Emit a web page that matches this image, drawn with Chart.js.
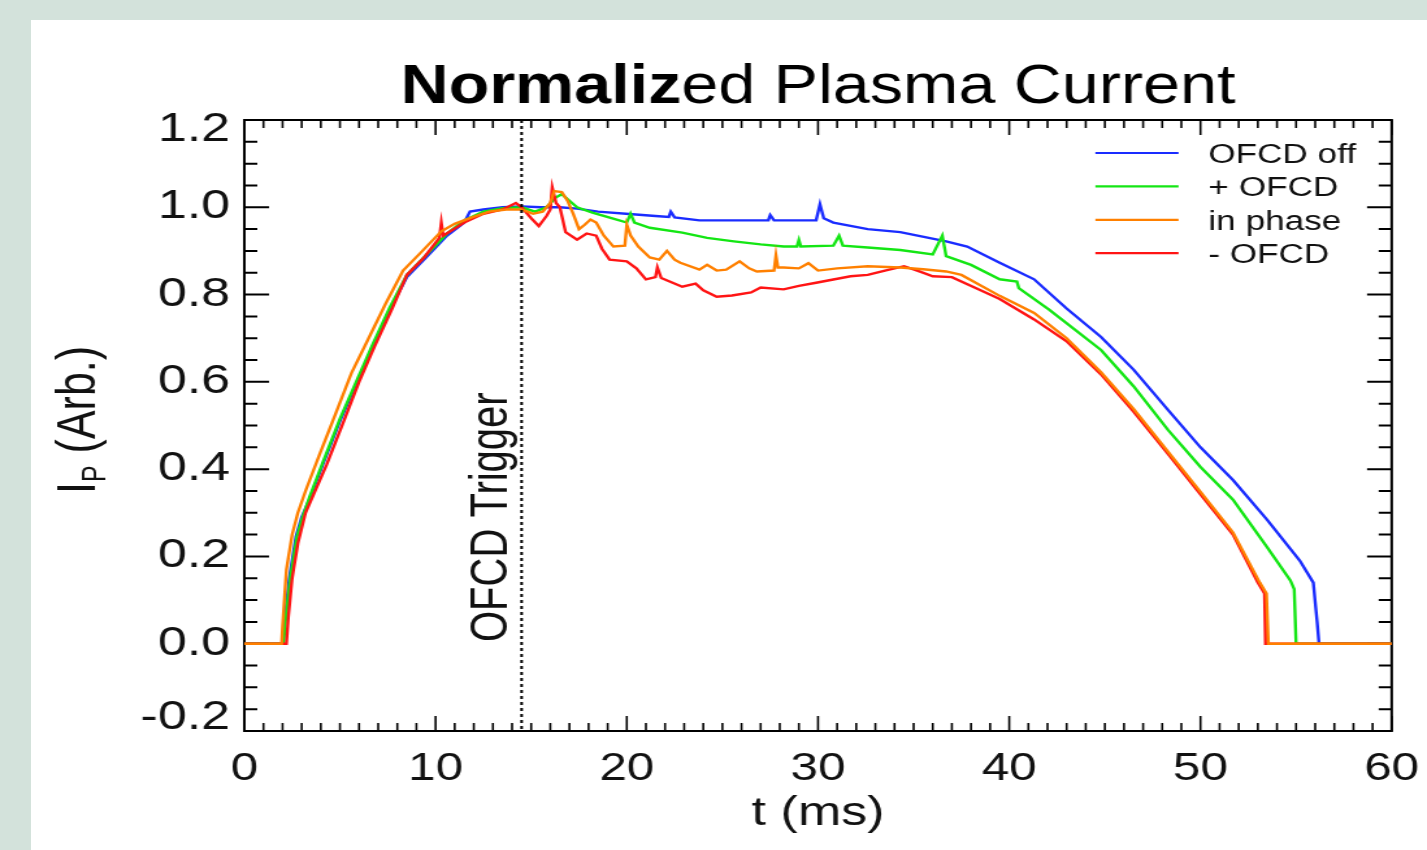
<!DOCTYPE html>
<html>
<head>
<meta charset="utf-8">
<title>Normalized Plasma Current</title>
<script src="https://cdn.jsdelivr.net/npm/chart.js@4.4.1/dist/chart.umd.min.js"></script>
<style>
  html, body { margin: 0; padding: 0; }
  body { width: 1427px; height: 850px; overflow: hidden; background: #d3e2db; position: relative; }
  #panel { position: absolute; left: 31px; top: 20px; right: 0; bottom: 0; background: #fff; }
  /* the source figure is stretched ~1.3x horizontally, so draw at native width and stretch */
  #wrap { position: absolute; left: 0; top: 0; width: 1108px; height: 850px; transform: scaleX(1.2996); transform-origin: 0 0; }
</style>
</head>
<body>
<div id="panel"></div>
<div id="wrap"><canvas id="chart"></canvas></div>
<script>
// Normalized plasma current, four shots

const FONT = '"Liberation Sans", Arial, Helvetica, sans-serif';

const TITLE_BOLD = 'Normaliz';
const TITLE_REST = 'ed Plasma Current';
const X_TITLE = 't (ms)';
const TRIGGER_LABEL = 'OFCD Trigger';
const TRIGGER_T = 14.5;

const X_TICKS = [0, 10, 20, 30, 40, 50, 60];
const Y_TICKS = [-0.2, 0.0, 0.2, 0.4, 0.6, 0.8, 1.0, 1.2];

const SERIES_LABELS = ['OFCD off', '+ OFCD', 'in phase', '- OFCD'];
const SERIES_COLORS = ['#1a2cff', '#14e614', '#ff8000', '#ff1414'];

// OFCD off
const OFF_T = [0, 2.0, 2.1, 2.35, 2.7, 3.0, 3.4, 4.1, 5.0, 5.9, 6.7, 7.6, 8.5, 9.5, 10.6, 11.5, 11.8,
  12.5, 13.5, 14.5, 15.5, 16.5, 17.4, 18.5, 20.3, 21.5, 22.2, 22.3, 22.5, 23.8, 25.0, 27.4, 27.5, 27.7,
  29.9, 30.1, 30.3, 30.8, 32.6, 34.3, 36.7, 37.8, 39.5, 41.3, 43.0, 44.8, 46.5, 48.3, 50.0, 51.7,
  53.5, 55.2, 55.9, 56.1, 56.2, 60];
const OFF_I = [0, 0, 0.05, 0.15, 0.245, 0.29, 0.33, 0.41, 0.51, 0.60, 0.68, 0.765, 0.84, 0.885, 0.935, 0.965, 0.99,
  0.995, 1.0, 1.002, 1.0, 1.0, 0.997, 0.99, 0.984, 0.98, 0.978, 0.99, 0.977, 0.97, 0.97, 0.97, 0.982, 0.97,
  0.97, 1.007, 0.975, 0.965, 0.95, 0.943, 0.922, 0.91, 0.873, 0.835, 0.768, 0.703, 0.628, 0.536, 0.45, 0.375,
  0.283, 0.19, 0.14, 0.05, 0, 0];

// + OFCD
const PLUS_T = [0, 2.05, 2.15, 2.4, 2.75, 3.05, 3.4, 4.1, 5.0, 5.9, 6.7, 7.6, 8.5, 9.5, 10.6, 11.5, 12.5,
  13.5, 14.5, 15.2, 15.8, 16.3, 16.6, 17.0, 17.4, 18.2, 19.2, 20.0, 20.2, 20.4, 21.2, 22.9, 24.2, 25.6,
  27.0, 28.2, 28.9, 29.0, 29.1, 30.8, 31.1, 31.3, 32.6, 34.3, 36.0, 36.5, 36.7, 38.0, 39.5, 40.4, 40.5,
  42.1, 44.8, 46.5, 48.3, 50.0, 51.7, 53.5, 54.7, 54.9, 55.0, 60];
const PLUS_I = [0, 0, 0.05, 0.15, 0.245, 0.29, 0.335, 0.415, 0.515, 0.605, 0.685, 0.77, 0.845, 0.89, 0.94, 0.97, 0.99,
  0.998, 1.0, 0.99, 1.0, 1.023, 1.03, 1.015, 1.0, 0.988, 0.975, 0.965, 0.985, 0.965, 0.953, 0.942, 0.93, 0.922,
  0.915, 0.91, 0.91, 0.925, 0.91, 0.912, 0.935, 0.912, 0.908, 0.902, 0.892, 0.935, 0.888, 0.868, 0.835, 0.83, 0.815,
  0.765, 0.673, 0.59, 0.49, 0.405, 0.33, 0.22, 0.145, 0.125, 0, 0];

// in phase
const PHASE_T = [0, 1.95, 2.0, 2.2, 2.5, 2.8, 3.2, 3.9, 4.8, 5.6, 6.5, 7.4, 8.3, 9.2, 10.3, 11.0, 11.9,
  12.8, 13.7, 14.5, 15.1, 15.6, 16.0, 16.2, 16.6, 16.9, 17.2, 17.5, 17.8, 18.1, 18.4, 18.8, 19.3, 19.9,
  20.0, 20.2, 20.6, 21.2, 21.7, 22.1, 22.5, 22.8, 23.8, 24.2, 24.7, 25.2, 25.9, 26.4, 26.8, 27.7, 27.8,
  27.9, 28.2, 29.0, 29.5, 30.0, 31.0, 32.6, 34.3, 35.5, 36.7, 37.5, 39.5, 41.3, 43.0, 44.8, 46.5, 48.3,
  50.0, 51.7, 53.1, 53.45, 53.55, 60];
const PHASE_I = [0, 0, 0.04, 0.17, 0.25, 0.30, 0.35, 0.43, 0.53, 0.62, 0.70, 0.78, 0.855, 0.895, 0.945, 0.962, 0.977,
  0.99, 0.995, 0.995, 0.985, 0.99, 1.01, 1.037, 1.035, 1.015, 0.985, 0.95, 0.96, 0.972, 0.965, 0.935, 0.91, 0.912,
  0.96, 0.935, 0.91, 0.885, 0.88, 0.90, 0.88, 0.873, 0.857, 0.868, 0.855, 0.857, 0.876, 0.86, 0.853, 0.855, 0.89,
  0.862, 0.862, 0.86, 0.872, 0.855, 0.86, 0.865, 0.862, 0.858, 0.853, 0.845, 0.797, 0.758, 0.70, 0.622, 0.538, 0.44,
  0.348, 0.255, 0.14, 0.115, 0, 0];

// - OFCD
const MINUS_T = [0, 2.2, 2.3, 2.5, 2.8, 3.2, 3.6, 4.3, 5.2, 6.0, 6.8, 7.7, 8.5, 9.4, 10.2, 10.3, 10.4,
  11.5, 12.5, 13.5, 14.2, 14.5, 15.0, 15.4, 15.8, 16.0, 16.1, 16.3, 16.5, 16.8, 17.4, 17.9, 18.4, 18.7,
  19.1, 20.0, 20.5, 21.0, 21.5, 21.6, 21.8, 22.9, 23.6, 24.0, 24.7, 25.5, 26.5, 27.0, 28.2, 29.0, 29.9,
  31.7, 32.6, 33.5, 34.5, 35.3, 36.0, 37.0, 38.5, 39.5, 41.3, 43.0, 44.8, 46.5, 48.3, 50.0, 51.7, 53.0,
  53.35, 53.4, 60];
const MINUS_I = [0, 0, 0.06, 0.15, 0.23, 0.30, 0.34, 0.41, 0.51, 0.60, 0.68, 0.765, 0.845, 0.885, 0.93, 0.965, 0.935,
  0.965, 0.985, 0.995, 1.01, 1.0, 0.975, 0.957, 0.98, 0.995, 1.046, 1.01, 1.0, 0.943, 0.926, 0.94, 0.935, 0.905,
  0.88, 0.876, 0.86, 0.835, 0.84, 0.862, 0.838, 0.818, 0.825, 0.81, 0.795, 0.798, 0.805, 0.816, 0.812, 0.82, 0.827,
  0.842, 0.845, 0.855, 0.865, 0.853, 0.842, 0.84, 0.81, 0.79, 0.743, 0.693, 0.617, 0.532, 0.435, 0.342, 0.25, 0.14,
  0.115, 0, 0];

function points(ts, vs) {
  return ts.map((t, i) => ({ x: t, y: vs[i] }));
}

// IDL-style frame: box and inward ticks on all sides, under the curves
const framePlugin = {
  id: 'frame',
  beforeDatasetsDraw(chart) {
    const { ctx, chartArea: a, scales: { x, y } } = chart;
    ctx.save();
    ctx.strokeStyle = '#000';

    ctx.lineWidth = 2;
    ctx.strokeRect(a.left, a.top, a.right - a.left, a.bottom - a.top);

    // x ticks, minor every 1 ms
    ctx.lineWidth = 1.6;
    ctx.beginPath();
    for (let t = x.min; t <= x.max; t += 1) {
      const px = x.getPixelForValue(t);
      const len = t % 10 === 0 ? 15 : 8;
      ctx.moveTo(px, a.bottom);
      ctx.lineTo(px, a.bottom - len);
      ctx.moveTo(px, a.top);
      ctx.lineTo(px, a.top + len);
    }
    ctx.stroke();

    // y ticks, minor every 0.05
    ctx.lineWidth = 2;
    ctx.beginPath();
    const steps = Math.round((y.max - y.min) / 0.05);
    for (let i = 0; i <= steps; i++) {
      const py = y.getPixelForValue(y.min + i * 0.05);
      const len = i % 4 === 0 ? 19 : 10;
      ctx.moveTo(a.left, py);
      ctx.lineTo(a.left + len, py);
      ctx.moveTo(a.right, py);
      ctx.lineTo(a.right - len, py);
    }
    ctx.stroke();
    ctx.restore();
  },
  afterDatasetsDraw(chart) {
    const { ctx, chartArea: a, scales: { x, y } } = chart;
    ctx.save();
    ctx.strokeStyle = '#000';
    ctx.fillStyle = '#111';

    // trigger line
    const tx = x.getPixelForValue(TRIGGER_T);
    ctx.setLineDash([3, 3]);
    ctx.lineWidth = 2;
    ctx.beginPath();
    ctx.moveTo(tx, a.top);
    ctx.lineTo(tx, a.bottom);
    ctx.stroke();
    ctx.setLineDash([]);

    // y tick labels; the end labels sit inside the axis range as in the source
    ctx.font = `40px ${FONT}`;
    ctx.textAlign = 'right';
    ctx.textBaseline = 'middle';
    Y_TICKS.forEach(v => {
      const py = Math.min(Math.max(y.getPixelForValue(v), a.top + 10), a.bottom - 13);
      ctx.fillText(v.toFixed(1), a.left - 11, py);
    });

    // trigger label
    ctx.save();
    ctx.translate(tx - 11.5, a.bottom - 89);
    ctx.rotate(-Math.PI / 2);
    ctx.font = `40px ${FONT}`;
    ctx.textAlign = 'left';
    ctx.textBaseline = 'alphabetic';
    ctx.fillText(TRIGGER_LABEL, 0, 0);
    ctx.restore();

    // legend
    ctx.font = `27px ${FONT}`;
    ctx.textAlign = 'left';
    ctx.textBaseline = 'alphabetic';
    chart.data.datasets.forEach((ds, i) => {
      const ly = a.top + 33 + i * 33.4;
      ctx.strokeStyle = ds.borderColor;
      ctx.lineWidth = 2.2;
      ctx.beginPath();
      ctx.moveTo(a.right - 228, ly);
      ctx.lineTo(a.right - 164, ly);
      ctx.stroke();
      ctx.fillText(ds.label, a.right - 141, ly + 9.7);
    });

    // title, part of it bold as in the source
    const cx = (a.left + a.right) / 2;
    ctx.save();
    ctx.translate(cx, 103);
    ctx.scale(0.93, 1);
    ctx.fillStyle = '#000';
    const bold = `bold 55px ${FONT}`;
    const normal = `55px ${FONT}`;
    ctx.font = bold;
    const w1 = ctx.measureText(TITLE_BOLD).width;
    ctx.font = normal;
    const w2 = ctx.measureText(TITLE_REST).width;
    const sx = -(w1 + w2) / 2;
    ctx.font = bold;
    ctx.fillText(TITLE_BOLD, sx, 0);
    ctx.font = normal;
    ctx.fillText(TITLE_REST, sx + w1, 0);
    ctx.restore();

    // x title
    ctx.font = `40px ${FONT}`;
    ctx.textAlign = 'center';
    ctx.fillText(X_TITLE, cx, 825);

    // y title with subscript
    ctx.save();
    ctx.translate(73, 494);
    ctx.rotate(-Math.PI / 2);
    ctx.textAlign = 'left';
    ctx.font = `43px ${FONT}`;
    ctx.fillText('I', 0, 0);
    let w = ctx.measureText('I').width;
    ctx.font = `25px ${FONT}`;
    ctx.fillText('P', w, 8);
    w += ctx.measureText('P').width;
    ctx.font = `43px ${FONT}`;
    ctx.fillText(' (Arb.)', w, 0);
    ctx.restore();

    ctx.restore();
  }
};

const seriesData = [
  points(OFF_T, OFF_I),
  points(PLUS_T, PLUS_I),
  points(PHASE_T, PHASE_I),
  points(MINUS_T, MINUS_I)
];
// orange drawn last, blue first
const drawOrder = [4, 3, 1, 2];

new Chart(document.getElementById('chart').getContext('2d'), {
  type: 'line',
  data: {
    datasets: seriesData.map((d, i) => ({
      label: SERIES_LABELS[i],
      data: d,
      borderColor: SERIES_COLORS[i],
      backgroundColor: SERIES_COLORS[i],
      borderWidth: 2.4,
      pointRadius: 0,
      tension: 0,
      fill: false,
      order: drawOrder[i]
    }))
  },
  options: {
    responsive: true,
    maintainAspectRatio: false,
    animation: false,
    // the right edge follows the half width of the last x label plus tick padding
    layout: { autoPadding: false, padding: { left: 0, top: 120, right: 0, bottom: 0 } },
    plugins: {
      legend: { display: false },
      title: { display: false },
      tooltip: { enabled: false }
    },
    scales: {
      x: {
        type: 'linear',
        min: 0,
        max: 60,
        afterBuildTicks: s => { s.ticks = X_TICKS.map(value => ({ value })); },
        afterFit: s => { s.height = 119; },
        grid: { display: false, drawTicks: false },
        border: { display: false },
        ticks: {
          autoSkip: false,
          maxRotation: 0,
          padding: 16,
          color: '#111',
          font: { family: FONT, size: 38 },
          callback: v => String(v)
        }
      },
      y: {
        type: 'linear',
        min: -0.2,
        max: 1.2,
        afterBuildTicks: s => { s.ticks = Y_TICKS.map(value => ({ value })); },
        afterFit: s => { s.width = 188; },
        grid: { display: false, drawTicks: false },
        border: { display: false },
        ticks: { display: false }
      }
    }
  },
  plugins: [framePlugin]
});
</script>
</body>
</html>
